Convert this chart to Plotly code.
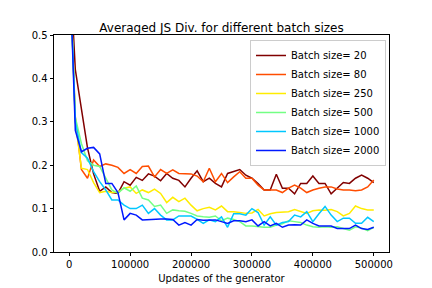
import plotly.graph_objects as go

updates = [k * 10000 for k in range(51)]

batch_labels = ["Batch size= 20", "Batch size= 80", "Batch size= 250",
                "Batch size= 500", "Batch size= 1000", "Batch size= 2000"]

js_bs20 = [0.69, 0.42, 0.33, 0.24, 0.18, 0.14, 0.15, 0.137, 0.135, 0.162,
           0.154, 0.172, 0.165, 0.18, 0.175, 0.164, 0.181, 0.17, 0.165, 0.15,
           0.17, 0.187, 0.162, 0.17, 0.158, 0.15, 0.181, 0.185, 0.19, 0.177,
           0.17, 0.158, 0.143, 0.143, 0.179, 0.147, 0.147, 0.134, 0.158, 0.158,
           0.175, 0.158, 0.158, 0.134, 0.148, 0.16, 0.158, 0.17, 0.177, 0.17,
           0.16]
js_bs80 = [0.69, 0.31, 0.19, 0.17, 0.212, 0.197, 0.203, 0.2, 0.195, 0.181,
           0.19, 0.181, 0.197, 0.198, 0.173, 0.19, 0.181, 0.189, 0.181, 0.181,
           0.18, 0.175, 0.162, 0.193, 0.162, 0.181, 0.16, 0.173, 0.185, 0.17,
           0.17, 0.154, 0.143, 0.143, 0.143, 0.137, 0.147, 0.154, 0.147, 0.137,
           0.143, 0.147, 0.15, 0.15, 0.145, 0.143, 0.143, 0.141, 0.143, 0.15,
           0.166]
js_bs250 = [0.69, 0.3, 0.193, 0.19, 0.16, 0.137, 0.14, 0.137, 0.138, 0.147,
            0.15, 0.135, 0.143, 0.137, 0.145, 0.135, 0.114, 0.126, 0.116, 0.124,
            0.108, 0.095, 0.1, 0.103, 0.097, 0.106, 0.093, 0.093, 0.091, 0.089,
            0.09, 0.098, 0.083, 0.088, 0.091, 0.092, 0.093, 0.098, 0.093, 0.089,
            0.095, 0.097, 0.096, 0.098, 0.093, 0.083, 0.089, 0.106, 0.1, 0.097,
            0.097]
js_bs500 = [0.69, 0.31, 0.25, 0.21, 0.2, 0.197, 0.17, 0.143, 0.135, 0.148,
            0.14, 0.152, 0.124, 0.12, 0.105, 0.108, 0.089, 0.097, 0.095, 0.094,
            0.089, 0.083, 0.081, 0.08, 0.083, 0.072, 0.078, 0.075, 0.07, 0.06,
            0.06, 0.058, 0.057, 0.057, 0.062, 0.065, 0.072, 0.07, 0.068, 0.062,
            0.058, 0.057, 0.058, 0.057, 0.058, 0.054, 0.05, 0.058, 0.055, 0.049,
            0.057]
js_bs1000 = [0.69, 0.3, 0.229, 0.216, 0.185, 0.162, 0.143, 0.12, 0.12, 0.108,
             0.1, 0.1, 0.108, 0.089, 0.1, 0.085, 0.074, 0.074, 0.083, 0.083,
             0.083, 0.075, 0.066, 0.074, 0.07, 0.081, 0.057, 0.088, 0.088, 0.085,
             0.1, 0.091, 0.062, 0.081, 0.062, 0.068, 0.07, 0.085, 0.081, 0.093,
             0.07, 0.088, 0.105, 0.085, 0.07, 0.078, 0.078, 0.066, 0.066, 0.08,
             0.07]
js_bs2000 = [0.69, 0.28, 0.231, 0.239, 0.241, 0.226, 0.158, 0.158, 0.137, 0.074,
             0.089, 0.085, 0.074, 0.075, 0.075, 0.076, 0.076, 0.075, 0.062, 0.068,
             0.062, 0.075, 0.073, 0.074, 0.074, 0.07, 0.066, 0.072, 0.072, 0.07,
             0.074, 0.06, 0.07, 0.06, 0.066, 0.057, 0.062, 0.063, 0.062, 0.074,
             0.066, 0.06, 0.06, 0.06, 0.054, 0.054, 0.054, 0.062, 0.054, 0.052,
             0.057]

series = [js_bs20, js_bs80, js_bs250, js_bs500, js_bs1000, js_bs2000]
colors = ["rgb(128,0,0)", "rgb(255,77,0)", "rgb(255,236,0)",
          "rgb(115,255,132)", "rgb(0,199,255)", "rgb(0,25,255)"]

x_ticks = [0, 100000, 200000, 300000, 400000, 500000]
y_ticks = [0.0, 0.1, 0.2, 0.3, 0.4, 0.5]

fig = go.Figure()
for name, vals, col in zip(batch_labels, series, colors):
    fig.add_trace(go.Scatter(x=updates, y=vals, mode="lines", name=name,
                             line=dict(color=col, width=1.5)))

font = "DejaVu Sans, Verdana, sans-serif"
fig.update_layout(
    width=432, height=288,
    margin=dict(l=54, r=43, t=35, b=36),
    paper_bgcolor="white", plot_bgcolor="white",
    font=dict(family=font, size=10, color="black"),
    title=dict(text="Averaged JS Div. for different batch sizes",
               font=dict(family=font, size=12, color="black"),
               x=0.5, xanchor="center", xref="paper",
               y=1, yanchor="bottom", yref="paper",
               pad=dict(b=3)),
    showlegend=True,
    legend=dict(x=0.991, y=0.977, xanchor="right", yanchor="top",
                bgcolor="rgba(255,255,255,0.8)", bordercolor="#cccccc",
                borderwidth=1, font=dict(family=font, size=10, color="black"),
                itemwidth=30),
)
fig.update_xaxes(range=[-25000, 525000], tickvals=x_ticks,
                 ticktext=[str(v) for v in x_ticks],
                 ticks="outside", ticklen=3.5, tickwidth=0.8, tickcolor="black",
                 ticklabelstandoff=0, automargin=False,
                 showline=True, linecolor="black", linewidth=0.8, mirror=True,
                 showgrid=False, zeroline=False,
                 title=dict(text="Updates of the generator", standoff=5,
                            font=dict(family=font, size=10, color="black")))
fig.update_yaxes(range=[0, 0.5], tickvals=y_ticks,
                 ticktext=["%.1f" % v for v in y_ticks],
                 ticks="outside", ticklen=3.5, tickwidth=0.8, tickcolor="black",
                 automargin=False,
                 showline=True, linecolor="black", linewidth=0.8, mirror=True,
                 showgrid=False, zeroline=False)

fig.write_html("out.html",
               config={"displayModeBar": False},
               post_script="document.body.style.margin='0px';document.body.style.padding='0px';")
